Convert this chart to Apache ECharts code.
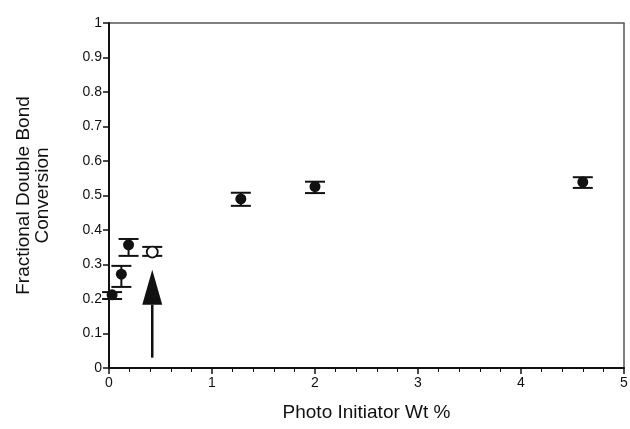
<!DOCTYPE html>
<html>
<head>
<meta charset="utf-8">
<script src="https://cdn.jsdelivr.net/npm/echarts@6/dist/echarts.min.js"></script>
<style>
  html, body { margin: 0; padding: 0; background: #fff; }
  #chart { width: 630px; height: 429px; }
</style>
</head>
<body>
<div id="chart"></div>
<script>
// filled points
var wtPct = [0.03, 0.12, 0.19, 1.28, 2.0, 4.6];
var conversion = [0.212, 0.272, 0.357, 0.49, 0.526, 0.539];
var errLow = [0.200, 0.235, 0.325, 0.470, 0.507, 0.522];
var errHigh = [0.220, 0.296, 0.374, 0.508, 0.540, 0.553];

// open point
var openWt = [0.42];
var openConv = [0.336];
var openLow = [0.325];
var openHigh = [0.351];

// arrow (x, tail y, tip y)
var arrow = [[0.42, 0.03, 0.285]];

var chart = echarts.init(document.getElementById('chart'));

function errBar(params, api) {
  var x = api.value(0);
  var lo = api.coord([x, api.value(1)]);
  var hi = api.coord([x, api.value(2)]);
  var st = { stroke: '#111', lineWidth: 2 };
  return {
    type: 'group',
    children: [
      { type: 'line', shape: { x1: lo[0], y1: lo[1], x2: hi[0], y2: hi[1] }, style: st },
      { type: 'line', shape: { x1: lo[0] - 10, y1: lo[1], x2: lo[0] + 10, y2: lo[1] }, style: st },
      { type: 'line', shape: { x1: hi[0] - 10, y1: hi[1], x2: hi[0] + 10, y2: hi[1] }, style: st }
    ]
  };
}

chart.setOption({
  animation: false,
  grid: {
    left: 109, right: 6, top: 23, bottom: 61,
    outerBoundsMode: 'none', containLabel: false,
    show: true, borderColor: '#555', borderWidth: 1.5
  },
  xAxis: {
    type: 'value', min: 0, max: 5, interval: 1,
    name: 'Photo Initiator Wt %', nameLocation: 'middle', nameGap: 35,
    nameTextStyle: { fontFamily: 'Liberation Sans', fontSize: 19, color: '#111' },
    axisLine: { lineStyle: { color: '#111', width: 2 } },
    axisTick: { inside: false, length: 6, lineStyle: { color: '#111', width: 1.5 } },
    minorTick: { show: true, splitNumber: 5, length: 4, lineStyle: { color: '#111', width: 1 } },
    axisLabel: { fontFamily: 'Liberation Sans', fontSize: 14, color: '#111', margin: 8 },
    splitLine: { show: false }
  },
  yAxis: {
    type: 'value', min: 0, max: 1, interval: 0.1,
    name: 'Fractional Double Bond\nConversion', nameLocation: 'middle', nameGap: 57,
    nameTextStyle: { fontFamily: 'Liberation Sans', fontSize: 19, color: '#111', lineHeight: 19 },
    axisLine: { lineStyle: { color: '#111', width: 2 } },
    axisTick: { inside: false, length: 6, lineStyle: { color: '#111', width: 1.5 } },
    axisLabel: { fontFamily: 'Liberation Sans', fontSize: 14, color: '#111', margin: 7,
      formatter: function (v) { return String(Math.round(v * 10) / 10); } },
    splitLine: { show: false }
  },
  series: [
    {
      type: 'custom',
      renderItem: errBar,
      data: wtPct.map(function (x, i) { return [x, errLow[i], errHigh[i]]; }),
      z: 2
    },
    {
      type: 'custom',
      renderItem: errBar,
      data: openWt.map(function (x, i) { return [x, openLow[i], openHigh[i]]; }),
      z: 2
    },
    {
      type: 'scatter',
      symbol: 'circle', symbolSize: 11,
      itemStyle: { color: '#111', opacity: 1 },
      data: wtPct.map(function (x, i) { return [x, conversion[i]]; }),
      z: 3
    },
    {
      type: 'scatter',
      symbol: 'circle', symbolSize: 11,
      itemStyle: { color: '#fff', borderColor: '#111', borderWidth: 1.8, opacity: 1 },
      data: openWt.map(function (x, i) { return [x, openConv[i]]; }),
      z: 3
    },
    {
      type: 'custom',
      renderItem: function (params, api) {
        var x = api.value(0);
        var tail = api.coord([x, api.value(1)]);
        var tip = api.coord([x, api.value(2)]);
        var base = tip[1] + 35;
        return {
          type: 'group',
          children: [
            { type: 'line', shape: { x1: tail[0], y1: tail[1], x2: tail[0], y2: base },
              style: { stroke: '#111', lineWidth: 2.5 } },
            { type: 'polygon', shape: { points: [[tip[0], tip[1]], [tip[0] - 10, base], [tip[0] + 10, base]] },
              style: { fill: '#111' } }
          ]
        };
      },
      data: arrow,
      z: 3
    }
  ]
});
</script>
</body>
</html>
